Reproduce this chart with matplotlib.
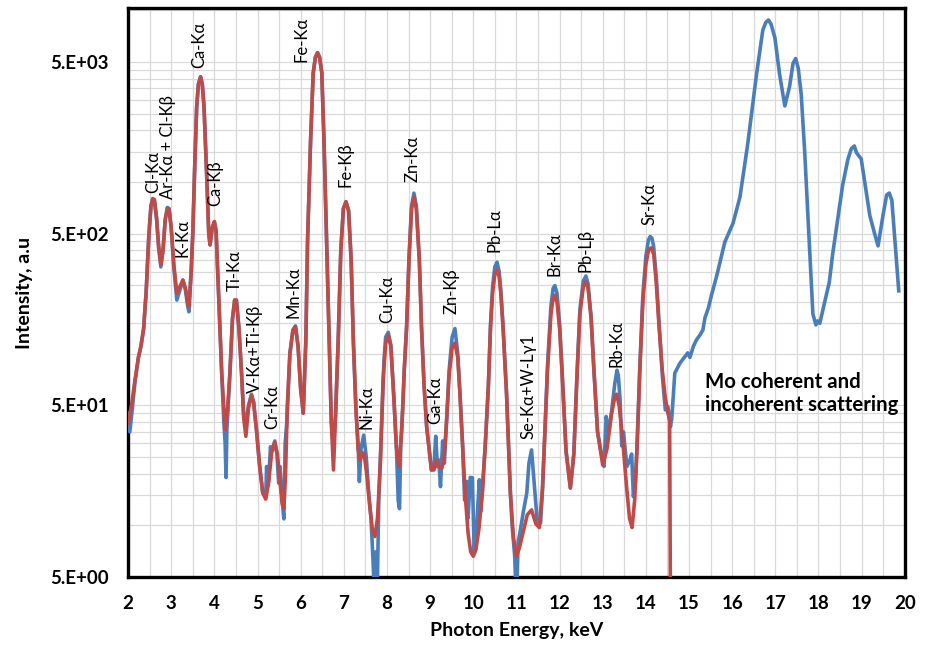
import matplotlib
matplotlib.use('Agg')
import matplotlib.pyplot as plt
from matplotlib.ticker import FixedLocator, NullFormatter, MultipleLocator

plt.rcParams['font.family'] = ['Lato', 'DejaVu Sans']

# fitted spectrum (red), keV / intensity
red_kev = [2.00, 2.08, 2.16, 2.24, 2.30, 2.36, 2.42, 2.48, 2.53, 2.57, 2.61, 2.66, 2.71, 2.76, 2.81,
           2.86, 2.91, 2.95, 3.00, 3.06, 3.13, 3.20, 3.27, 3.33, 3.38, 3.41, 3.46, 3.50, 3.54, 3.59,
           3.63, 3.68, 3.72, 3.76, 3.82, 3.87, 3.90, 3.95, 4.00, 4.04, 4.11, 4.17, 4.25, 4.30, 4.36,
           4.42, 4.47, 4.51, 4.57, 4.63, 4.68, 4.73, 4.79, 4.86, 4.91, 4.98, 5.05, 5.12, 5.19, 5.26,
           5.33, 5.40, 5.46, 5.52, 5.57, 5.61, 5.65, 5.69, 5.75, 5.82, 5.88, 5.94, 6.00, 6.06, 6.12,
           6.16, 6.23, 6.29, 6.34, 6.39, 6.44, 6.49, 6.54, 6.60, 6.66, 6.71, 6.76, 6.81, 6.87, 6.93,
           6.99, 7.05, 7.11, 7.17, 7.22, 7.28, 7.33, 7.38, 7.43, 7.47, 7.53, 7.60, 7.66, 7.72, 7.78,
           7.85, 7.91, 7.97, 8.03, 8.09, 8.16, 8.22, 8.28, 8.34, 8.40, 8.455, 8.51, 8.57, 8.625, 8.68,
           8.75, 8.80, 8.86, 8.92, 9.03, 9.09, 9.15, 9.21, 9.27, 9.32, 9.38, 9.44, 9.51, 9.575, 9.64,
           9.69, 9.75, 9.81, 9.88, 9.94, 10.00, 10.06, 10.13, 10.21, 10.28, 10.35, 10.40, 10.45, 10.50,
           10.55, 10.60, 10.64, 10.69, 10.77, 10.86, 10.93, 11.00, 11.07, 11.15, 11.25, 11.35, 11.45,
           11.53, 11.60, 11.66, 11.72, 11.80, 11.85, 11.89, 11.94, 12.00, 12.06, 12.15, 12.25, 12.33,
           12.40, 12.47, 12.55, 12.61, 12.66, 12.73, 12.79, 12.88, 13.00, 13.10, 13.20, 13.28, 13.32,
           13.38, 13.46, 13.55, 13.62, 13.68, 13.74, 13.80, 13.86, 13.93, 14.00, 14.06, 14.12, 14.18,
           14.24, 14.30, 14.38, 14.45, 14.51, 14.55, 14.57]
red_counts = [39, 50, 70, 95, 112, 140, 230, 480, 720, 800, 790, 620, 420, 330, 400,
              600, 700, 690, 540, 330, 225, 245, 268, 240, 200, 187, 295, 500, 1125, 2740,
              3700, 4100, 3700, 2740, 1125, 500, 430, 540, 587, 520, 187, 77, 36, 45, 77,
              160, 205, 205, 140, 77, 42, 33, 48, 57, 52, 35, 22, 15.5, 14.2, 18,
              27, 30.5, 26, 18, 13.5, 12.5, 20, 49, 100, 137, 143, 110, 62, 45, 120,
              459, 1750, 4300, 5300, 5660, 5300, 4300, 1750, 459, 120, 40, 21, 45, 120, 400,
              700, 767, 680, 350, 120, 48, 28, 24, 26.5, 26, 20, 13, 9.5, 8.6, 11,
              24, 70, 115, 128, 110, 55, 28, 22, 35, 80, 143, 351, 700, 820, 700,
              351, 143, 65, 37.5, 21, 21, 24, 22, 21.5, 24, 40, 75, 108, 115, 95,
              59, 30, 15.4, 9, 7, 6.6, 7.2, 9.5, 15.4, 30, 65, 143, 230, 290,
              307, 280, 220, 143, 59, 15.4, 8.5, 6.6, 7.4, 9, 11.5, 12.3, 10.2,
              9.7, 16, 35, 80, 170, 210, 219, 200, 140, 75, 27, 16.5, 26,
              70, 170, 245, 262, 240, 160, 85, 35, 22.4, 28, 44, 56, 58,
              50, 32, 17, 11, 9.7, 14, 30, 80, 200, 330, 400, 413, 380,
              260, 150, 80, 55, 45, 41, 3]

# measured spectrum (blue), keV / intensity
blue_kev = [2.00, 2.04, 2.10, 2.16, 2.24, 2.30, 2.36, 2.42, 2.48, 2.53, 2.57, 2.61, 2.66, 2.71, 2.76,
            2.81, 2.86, 2.91, 2.95, 3.00, 3.06, 3.13, 3.20, 3.27, 3.33, 3.38, 3.41, 3.46, 3.50, 3.54,
            3.59, 3.63, 3.68, 3.72, 3.76, 3.82, 3.87, 3.90, 3.95, 4.00, 4.04, 4.11, 4.17, 4.22, 4.25,
            4.27, 4.29, 4.36, 4.42, 4.47, 4.51, 4.57, 4.63, 4.68, 4.73, 4.79, 4.86, 4.91, 4.98, 5.05,
            5.12, 5.19, 5.21, 5.25, 5.30, 5.34, 5.40, 5.45, 5.49, 5.52, 5.57, 5.61, 5.64, 5.68, 5.75,
            5.82, 5.88, 5.94, 6.00, 6.06, 6.12, 6.16, 6.23, 6.29, 6.34, 6.39, 6.44, 6.49, 6.54, 6.60,
            6.66, 6.71, 6.76, 6.81, 6.87, 6.93, 6.99, 7.05, 7.11, 7.17, 7.22, 7.28, 7.33, 7.36, 7.40,
            7.46, 7.52, 7.58, 7.63, 7.68, 7.71, 7.74, 7.77, 7.81, 7.87, 7.93, 7.97, 8.03, 8.09, 8.16,
            8.22, 8.26, 8.29, 8.32, 8.37, 8.40, 8.455, 8.51, 8.57, 8.625, 8.68, 8.75, 8.80, 8.86, 8.92,
            9.03, 9.09, 9.13, 9.17, 9.20, 9.24, 9.29, 9.33, 9.38, 9.44, 9.51, 9.575, 9.64, 9.69, 9.75,
            9.80, 9.85, 9.88, 9.93, 9.98, 10.02, 10.04, 10.08, 10.14, 10.17, 10.21, 10.28, 10.35, 10.40,
            10.45, 10.50, 10.55, 10.60, 10.64, 10.69, 10.77, 10.86, 10.90, 10.96, 11.00, 11.04, 11.08,
            11.16, 11.24, 11.29, 11.35, 11.40, 11.48, 11.56, 11.61, 11.66, 11.72, 11.80, 11.85, 11.89,
            11.94, 12.00, 12.06, 12.15, 12.25, 12.33, 12.40, 12.47, 12.55, 12.61, 12.66, 12.73, 12.79,
            12.88, 12.97, 13.03, 13.08, 13.14, 13.20, 13.28, 13.33, 13.36, 13.40, 13.44, 13.48, 13.56,
            13.63, 13.67, 13.71, 13.76, 13.80, 13.86, 13.93, 14.00, 14.06, 14.10, 14.14, 14.18, 14.24,
            14.30, 14.38, 14.45, 14.51, 14.57, 14.60, 14.67, 14.79, 14.97, 15.02, 15.10, 15.17, 15.25,
            15.32, 15.37, 15.45, 15.52, 15.64, 15.74, 15.83, 16.02, 16.18, 16.36, 16.56, 16.71, 16.78,
            16.84, 16.90, 16.99, 17.10, 17.22, 17.33, 17.41, 17.47, 17.53, 17.60, 17.68, 17.75, 17.87,
            17.94, 17.98, 18.03, 18.07, 18.18, 18.25, 18.33, 18.45, 18.56, 18.68, 18.76, 18.83, 18.88,
            18.99, 19.10, 19.19, 19.30, 19.38, 19.50, 19.58, 19.64, 19.70, 19.86]
blue_counts = [45, 35, 48, 68, 95, 110, 138, 230, 480, 720, 790, 780, 610, 410, 320,
               400, 600, 710, 700, 540, 320, 205, 235, 268, 235, 190, 175, 290, 500, 1125,
               2740, 3700, 4100, 3700, 2740, 1125, 500, 430, 540, 587, 520, 187, 77, 40, 30,
               19, 36, 77, 160, 205, 205, 140, 77, 44, 38, 50, 58, 52, 35, 22,
               15.5, 14.5, 22, 17, 28.7, 27, 31, 26, 17.6, 22, 14, 10.9, 30, 40, 100,
               137, 145, 110, 62, 45, 120, 459, 1750, 4300, 5300, 5660, 5300, 4300, 1750, 459,
               120, 40, 28, 45, 120, 400, 700, 767, 680, 350, 120, 48, 30, 18, 28,
               33.5, 25, 15, 11, 6, 3.5, 7, 3.5, 14, 35, 90, 125, 133, 112, 55,
               28, 14, 12.5, 30, 50, 80, 143, 360, 720, 860, 720, 351, 143, 65, 37.5,
               21, 22, 33, 22, 24, 16.8, 31, 23, 40, 80, 125, 140, 100, 59, 30,
               14, 18, 11, 19, 18.9, 7, 8.2, 10, 18.4, 12, 16, 30, 65, 150,
               250, 320, 341, 300, 230, 143, 59, 15.4, 10, 6.6, 3.5, 8, 9,
               12, 15.4, 23, 27.5, 19, 10.7, 10.3, 17, 35, 85, 190, 240, 249,
               225, 150, 78, 27, 16.5, 26, 72, 180, 265, 283, 255, 165, 85,
               35, 26, 22, 43, 35, 45, 67, 80, 75, 55, 29, 35, 22,
               24, 26, 14.7, 18, 32, 85, 220, 370, 460, 481, 470, 420, 280,
               160, 75, 47, 49, 37.5, 42, 77, 88, 101, 95, 110, 120, 128,
               137, 162, 185, 219, 283, 360, 447, 575, 817, 1663, 4160, 7670, 8500,
               8770, 8300, 6900, 4200, 2770, 3600, 4900, 5230, 4600, 3230, 1500, 668, 170,
               147, 155, 150, 166, 219, 260, 383, 620, 959, 1350, 1560, 1620, 1480,
               1360, 900, 636, 500, 424, 650, 840, 861, 780, 232]

# peak labels and their anchor (keV, intensity at label base)
peak_names = ['Cl-K\u03b1', 'Ar-K\u03b1 + Cl-K\u03b2', 'K-K\u03b1', 'Ca-K\u03b1', 'Ca-K\u03b2',
              'Ti-K\u03b1', 'V-K\u03b1+Ti-K\u03b2', 'Cr-K\u03b1', 'Mn-K\u03b1', 'Fe-K\u03b1',
              'Fe-K\u03b2', 'Ni-K\u03b1', 'Cu-K\u03b1', 'Zn-K\u03b1', 'Ga-K\u03b1', 'Zn-K\u03b2',
              'Pb-L\u03b1', 'Se-K\u03b1+W-L\u03b31', 'Br-K\u03b1', 'Pb-L\u03b2', 'Rb-K\u03b1', 'Sr-K\u03b1']
peak_kev = [2.59, 2.93, 3.26, 3.64, 4.03, 4.48, 4.95, 5.34, 5.84, 6.03,
            7.03, 7.53, 8.00, 8.59, 9.13, 9.50, 10.50, 11.27, 11.89, 12.61, 13.31, 14.09]
peak_base = [861, 795, 365, 4600, 724, 232, 59, 36.4, 161, 5000,
             934, 36.4, 151, 998, 38.9, 170, 391, 31.8, 283, 299, 83.6, 561]

y_major = [5, 50, 500, 5000]
y_major_labels = ['5.E+00', '5.E+01', '5.E+02', '5.E+03']
y_minor = [k * m for m in (5, 50, 500, 5000) for k in range(2, 10)]

fig = plt.figure(figsize=(9.28, 6.51), dpi=100)
ax = fig.add_axes([0.138, 0.1137, 0.837, 0.874])

ax.plot(blue_kev, blue_counts, color='#4A7EBB', lw=2.6, solid_joinstyle='round', zorder=3)
ax.plot(red_kev, red_counts, color='#BE4B48', lw=2.6, solid_joinstyle='round', zorder=4)

ax.set_yscale('log')
ax.set_xlim(2, 20)
ax.set_ylim(5, 10300)
ax.xaxis.set_major_locator(MultipleLocator(1))
ax.xaxis.set_minor_locator(MultipleLocator(0.5))
ax.yaxis.set_major_locator(FixedLocator(y_major))
ax.set_yticklabels(y_major_labels)
ax.yaxis.set_minor_locator(FixedLocator(y_minor))
ax.yaxis.set_minor_formatter(NullFormatter())

ax.grid(True, which='both', color='#D9D9D9', lw=0.9, zorder=0)
ax.set_axisbelow(True)
ax.tick_params(which='both', length=0)
ax.tick_params(axis='y', pad=14, labelsize=13.5)
ax.tick_params(axis='x', pad=13, labelsize=13.5)
for lab in ax.get_xticklabels() + ax.get_yticklabels():
    lab.set_fontweight('bold')

for s in ax.spines.values():
    s.set_linewidth(2.4)
    s.set_color('black')

ax.set_xlabel('Photon Energy, keV', fontsize=14, fontweight='bold', labelpad=7)
ax.set_ylabel('Intensity, a.u', fontsize=14, fontweight='bold', labelpad=12)

for name, xk, yb in zip(peak_names, peak_kev, peak_base):
    ax.text(xk, yb, name, rotation=90, ha='center', va='bottom', fontsize=12, zorder=5)

ax.text(15.37, 78, 'Mo coherent and\nincoherent scattering', ha='left', va='top',
        fontsize=14.7, fontweight='bold', linespacing=1.15, zorder=5)

fig.savefig('out.png', dpi=100)
